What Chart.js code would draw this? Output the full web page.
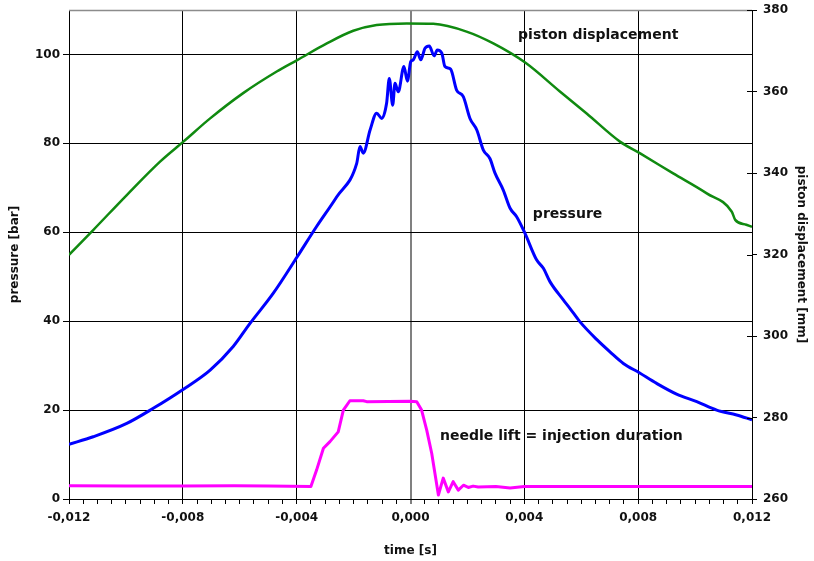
<!DOCTYPE html>
<html><head><meta charset="utf-8">
<script src="https://cdn.jsdelivr.net/npm/chart.js@4/dist/chart.umd.min.js"></script>
<style>html,body{margin:0;padding:0;background:#fff}#wrap{width:814px;height:561px}</style>
</head><body><div id="wrap"><canvas id="c" width="814" height="561"></canvas></div>
<script>
// ---- data (time in seconds) ----
const pressureTime = [-0.012,-0.01115,-0.00997,-0.00904,-0.00798,-0.00704,-0.00623,-0.00564,-0.00482,-0.00398,-0.0033,-0.00259,-0.00189,-0.001775,-0.00166,-0.00142,-0.00119,-0.00101,-0.00084,-0.000745,-0.000625,-0.000545,-0.00043,-0.00023,-0.00011,0.00001,0.0001,0.00024,0.00036,0.00051,0.00066,0.00083,0.00094,0.0011,0.00121,0.00141,0.00162,0.001855,0.00209,0.00233,0.00256,0.00279,0.00297,0.00326,0.0035,0.00373,0.00402,0.00443,0.00467,0.0049,0.00537,0.0056,0.00595,0.00654,0.00701,0.00748,0.00804,0.00865,0.00935,0.01006,0.01076,0.01146,0.012];
const pressure = [12.3,14.0,17.0,20.4,24.7,29.0,34.3,39.5,46.3,54.5,61.3,68.0,75.5,79.3,77.8,83.0,86.8,85.6,89.0,94.6,88.6,93.5,91.6,97.3,94.0,98.4,98.8,100.6,98.8,101.4,101.9,99.7,101.0,100.3,97.3,96.7,92.0,90.5,85.6,83.0,78.5,76.6,73.3,69.5,65.4,63.5,59.8,53.8,51.9,48.9,44.8,42.9,39.9,35.9,33.1,30.5,28.4,26.0,23.6,21.9,20.0,18.9,17.8];

const pistonTime = [-0.012,-0.01115,-0.00997,-0.0088,-0.00798,-0.00704,-0.00588,-0.0047,-0.00398,-0.00294,-0.00201,-0.00119,-0.00013,0.0008,0.00197,0.00291,0.00403,0.00525,0.00619,0.00736,0.00807,0.00923,0.01041,0.01129,0.01141,0.0118,0.012];
const pistonDisplacement = [319.9,326.0,334.6,342.8,347.7,353.4,359.6,364.9,367.7,371.8,374.9,376.3,376.7,376.6,374.7,371.8,367.1,360.0,354.6,347.7,344.8,339.9,335.0,330.5,328.5,327.3,326.8];

const needleTime = [-0.012,-0.0100,-0.008,-0.0062,-0.005,-0.0035,-0.0033,-0.00306,-0.00283,-0.00254,-0.00236,-0.00213,-0.00166,-0.00154,-0.00002,0.00022,0.00039,0.00057,0.000745,0.00098,0.00115,0.00133,0.0015,0.00168,0.00186,0.00203,0.0022,0.00238,0.003,0.0035,0.004,0.005,0.008,0.012];
const needleLift = [3.0,2.9,2.9,3.0,2.9,2.8,6.5,11.4,12.9,15.1,20.0,22.1,22.1,21.9,22.0,21.9,20.0,15.5,10.3,0.9,4.7,1.6,3.9,2.0,3.1,2.6,2.9,2.7,2.8,2.5,2.8,2.8,2.8,2.8];

const xTickLabels = ['-0,012','-0,008','-0,004','0,000','0,004','0,008','0,012'];
const leftTicks = [0,20,40,60,80,100];
const rightTicks = [260,280,300,320,340,360,380];

const labels = [
  {text:'piston displacement', t:0.00378, v:104.4},
  {text:'pressure', t:0.0043, v:64.1},
  {text:'needle lift = injection duration', t:0.00104, v:14.2}
];

const FONT = '"DejaVu Sans", sans-serif';
const zip = (xs, ys) => xs.map((x, i) => ({x, y: ys[i]}));

// minor tick positions (every 0.0005 s)
const xTickValues = [];
for (let i = 0; i <= 48; i++) xTickValues.push(Math.round((-0.012 + i * 0.0005) * 1e5) / 1e5);

const overlay = {
  id: 'overlay',
  afterDraw(chart) {
    const {ctx, chartArea, scales} = chart;
    ctx.save();
    ctx.strokeStyle = '#8c8c8c'; ctx.lineWidth = 1.5;
    ctx.beginPath(); ctx.moveTo(chartArea.left, chartArea.top + 0.5); ctx.lineTo(chartArea.right, chartArea.top + 0.5); ctx.stroke();
    ctx.strokeStyle = '#000'; ctx.lineWidth = 1;
    rightTicks.forEach(v => {
      const y = Math.round(scales.y2.getPixelForValue(v)) + 0.5;
      ctx.beginPath(); ctx.moveTo(chartArea.right - 5, y); ctx.lineTo(chartArea.right, y); ctx.stroke();
    });
    ctx.fillStyle = '#111';
    ctx.font = 'bold 14px ' + FONT;
    ctx.textBaseline = 'middle'; ctx.textAlign = 'left';
    labels.forEach(l => ctx.fillText(l.text, scales.x.getPixelForValue(l.t), scales.y.getPixelForValue(l.v)));
    ctx.restore();
  }
};

const fixV = w => s => { s.width = w; s.paddingTop = 10; s.paddingBottom = 0; };

new Chart(document.getElementById('c'), {
  type: 'line',
  data: {
    datasets: [
      {label:'needle lift', data: zip(needleTime, needleLift), yAxisID:'y', borderColor:'#ff00ff', borderWidth:3, pointRadius:0, tension:0, borderJoinStyle:'round'},
      {label:'pressure', data: zip(pressureTime, pressure), yAxisID:'y', borderColor:'#0000ff', borderWidth:3, pointRadius:0, cubicInterpolationMode:'monotone', borderJoinStyle:'round'},
      {label:'piston displacement', data: zip(pistonTime, pistonDisplacement), yAxisID:'y2', borderColor:'#108a10', borderWidth:2.5, pointRadius:0, cubicInterpolationMode:'monotone'}
    ]
  },
  options: {
    responsive: false, animation: false, devicePixelRatio: 1,
    layout: {padding: {top: 10, left: 0, right: 0, bottom: 0}},
    plugins: {legend: {display: false}, tooltip: {enabled: false}},
    scales: {
      x: {
        type: 'linear', min: -0.012, max: 0.012,
        afterBuildTicks: s => { s.ticks = xTickValues.map(v => ({value: v})); },
        afterFit: s => { s.height = 62; },
        ticks: {
          autoSkip: false, maxRotation: 0, padding: 7, color: '#111',
          font: {family: FONT, size: 12, weight: 'bold'},
          callback: (v, i) => (i % 8 === 0 ? xTickLabels[i / 8] : '')
        },
        grid: {
          color: c => (c.index % 8 === 0 ? (Math.abs(c.tick.value) < 1e-9 ? '#808080' : '#000') : 'rgba(0,0,0,0)'),
          lineWidth: c => (c.tick && Math.abs(c.tick.value) < 1e-9 ? 2 : 1),
          tickColor: '#000', tickWidth: 1, tickLength: 5
        },
        border: {display: true, color: '#000', width: 1},
        title: {display: true, text: 'time [s]', color: '#111', font: {family: FONT, size: 12, weight: 'bold'}, padding: {top: 4, bottom: 3}}
      },
      y: {
        position: 'left', min: 0, max: 110,
        afterBuildTicks: s => { s.ticks = leftTicks.map(v => ({value: v})); },
        afterFit: fixV(69),
        ticks: {padding: 3, color: '#111', font: {family: FONT, size: 12, weight: 'bold'}},
        grid: {color: '#000', lineWidth: 1, tickColor: '#000', tickLength: 6},
        border: {display: true, color: '#000', width: 1},
        title: {display: true, text: 'pressure [bar]', color: '#111', font: {family: FONT, size: 12, weight: 'bold'}, padding: {top: 8, bottom: 4}}
      },
      y2: {
        position: 'right', min: 260, max: 380,
        afterBuildTicks: s => { s.ticks = rightTicks.map(v => ({value: v})); },
        afterFit: fixV(62),
        ticks: {padding: 6, color: '#111', font: {family: FONT, size: 12, weight: 'bold'}},
        grid: {drawOnChartArea: false, tickColor: '#000', tickLength: 5},
        border: {display: true, color: '#000', width: 1},
        title: {display: true, text: 'piston displacement [mm]', color: '#111', font: {family: FONT, size: 12, weight: 'bold'}, padding: {top: 6, bottom: 4}}
      }
    }
  },
  plugins: [overlay]
});
</script></body></html>
